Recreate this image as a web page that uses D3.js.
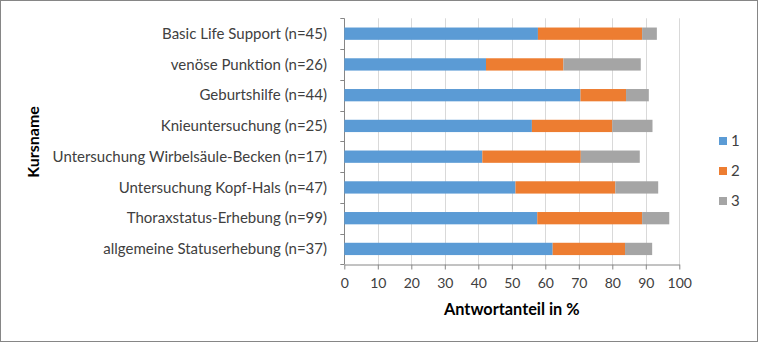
<!DOCTYPE html>
<html><head><meta charset="utf-8">
<script src="https://cdn.jsdelivr.net/npm/d3@7"></script>
<style>body{margin:0;background:#fff}svg{display:block}text{font-family:Lato,"Open Sans",sans-serif}</style>
</head><body><svg id="c" width="758" height="342"></svg>
<script>
const categories = ["Basic Life Support (n=45)","venöse Punktion (n=26)","Geburtshilfe (n=44)","Knieuntersuchung (n=25)","Untersuchung Wirbelsäule-Becken (n=17)","Untersuchung Kopf-Hals (n=47)","Thoraxstatus-Erhebung (n=99)","allgemeine Statuserhebung (n=37)"];
const series1 = [57.8,42.3,70.5,56.0,41.2,51.1,57.6,62.2];
const series2 = [31.1,23.1,13.6,24.0,29.4,29.8,31.3,21.6];
const series3 = [4.4,23.1,6.8,12.0,17.6,12.8,8.1,8.1];
const seriesNames = ["1","2","3"];
const xTicks = [0,10,20,30,40,50,60,70,80,90,100];
const colors = ["#5B9BD5","#ED7D31","#A5A5A5"];

const svg = d3.select("#c");
svg.append("rect").attr("x",0.5).attr("y",0.5).attr("width",757).attr("height",341).attr("fill","#fff").attr("stroke","#868686");
const L=344.3,R=679.3,T=18.3,B=264.3;
const x=d3.scaleLinear().domain([0,100]).range([L,R]);
const y=d3.scaleBand().domain(categories).range([T,B]).paddingInner(0.6).paddingOuter(0.3);
const g=svg.append("g");
// gridlines
g.selectAll("line.grid").data(xTicks).join("line").attr("x1",d=>Math.round(x(d))+0.5).attr("x2",d=>Math.round(x(d))+0.5)
 .attr("y1",T).attr("y2",B).attr("stroke",d=>d===0?"#868686":"#D9D9D9").attr("stroke-width",1);
// bars
const data=categories.map((c,i)=>({c,v:[series1[i],series2[i],series3[i]]}));
const stack=d3.stack().keys([0,1,2]).value((d,k)=>d.v[k]);
const layers=stack(data);
layers.forEach((layer,k)=>{
  g.selectAll(null).data(layer).join("rect").attr("x",d=>x(d[0])).attr("width",d=>x(d[1])-x(d[0]))
   .attr("y",d=>y(d.data.c)).attr("height",y.bandwidth()).attr("fill",colors[k]);
});
// y axis ticks at band boundaries
const step=(B-T)/categories.length;
const bounds=d3.range(categories.length+1).map(i=>T+i*step);
g.selectAll(null).data(bounds).join("line").attr("x1",L-4).attr("x2",L).attr("y1",d=>Math.round(d)+0.5).attr("y2",d=>Math.round(d)+0.5).attr("stroke","#868686");
// x axis
const xa=svg.append("g").attr("transform",`translate(0,${Math.round(B)+0.5})`)
 .call(d3.axisBottom(x).tickValues(xTicks).tickSize(5).tickSizeOuter(0).tickPadding(9));
xa.select(".domain").attr("stroke","#868686");
xa.selectAll(".tick line").attr("stroke","#868686");
xa.selectAll(".tick text").attr("font-size","14px").attr("fill","#404040").style("font-family","Lato,sans-serif");
// category labels
svg.selectAll(null).data(categories).join("text").attr("x",327).attr("y",d=>y(d)+y.bandwidth()/2).attr("dy","0.35em")
 .attr("text-anchor","end").attr("font-size","15px").attr("fill","#404040").text(d=>d);
// axis titles
svg.append("text").attr("x",(L+R)/2).attr("y",315).attr("text-anchor","middle").attr("font-size","16.3px").attr("font-weight","bold").attr("fill","#000").text("Antwortanteil in %");
svg.append("text").attr("transform",`translate(39,142) rotate(-90)`).attr("text-anchor","middle").attr("font-size","16px").attr("font-weight","bold").attr("fill","#000").text("Kursname");
// legend
const lg=svg.append("g");
seriesNames.forEach((n,i)=>{
  const yy=141+i*30;
  lg.append("rect").attr("x",719).attr("y",yy-4).attr("width",8).attr("height",8).attr("fill",colors[i]);
  lg.append("text").attr("x",731).attr("y",yy).attr("dy","0.35em").attr("font-size","15px").attr("fill","#404040").text(n);
});
</script></body></html>
